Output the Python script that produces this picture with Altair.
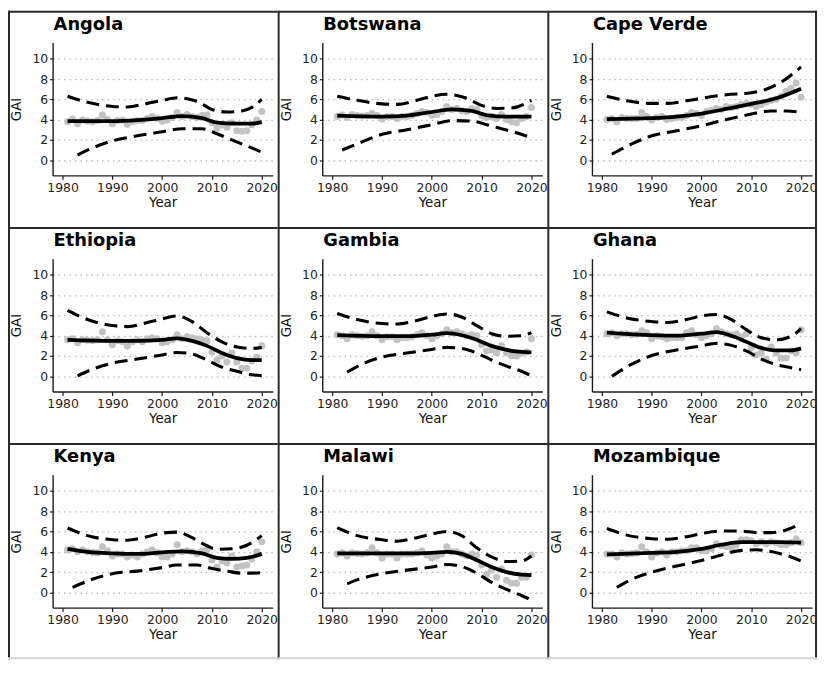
import altair as alt
import pandas as pd

FONT = "DejaVu Sans"
YEARS = list(range(1981, 2021))
COUNTRIES = ["Angola", "Botswana", "Cape Verde", "Ethiopia", "Gambia", "Ghana",
             "Kenya", "Malawi", "Mozambique"]
X_TICKS = [1980, 1990, 2000, 2010, 2020]
Y_TICKS = [0, 2, 4, 6, 8, 10]

# ---- yearly GAI observations (1981-2020) ----
ANGOLA_GAI = [3.8, 4.05, 3.6, 3.95, 3.85, 3.8, 3.9, 4.45, 4.0, 3.6, 3.9, 3.95, 3.55, 3.8, 3.9, 3.9,
              4.1, 4.3, 4.1, 3.85, 3.95, 4.2, 4.7, 4.3, 4.5, 4.3, 4.2, 4.4, 4.45, 3.7, 3.15, 3.5,
              3.25, 3.7, 2.9, 2.85, 2.9, 3.5, 3.95, 4.8]
BOTSWANA_GAI = [4.3, 4.45, 4.2, 4.5, 4.4, 4.35, 4.4, 4.6, 4.4, 4.05, 4.3, 4.3, 4.1, 4.3, 4.3, 4.4,
                4.6, 4.8, 4.7, 4.4, 4.5, 4.8, 5.3, 5.0, 5.1, 4.9, 4.8, 5.1, 5.0, 4.4, 4.2, 4.3,
                4.1, 4.5, 4.0, 3.8, 3.7, 4.1, 4.3, 5.2]
CAPEVERDE_GAI = [4.0, 4.1, 3.8, 4.2, 4.1, 4.1, 4.1, 4.7, 4.3, 3.95, 4.2, 4.3, 4.0, 4.1, 4.2, 4.2,
                 4.4, 4.7, 4.6, 4.4, 4.8, 4.9, 5.1, 5.0, 5.3, 5.2, 5.3, 5.5, 5.6, 5.5, 5.3, 5.5,
                 5.7, 5.9, 6.0, 6.3, 6.8, 7.1, 7.6, 6.2]
ETHIOPIA_GAI = [3.6, 3.7, 3.3, 3.6, 3.55, 3.5, 3.6, 4.4, 3.6, 3.1, 3.5, 3.4, 3.0, 3.4, 3.6, 3.4,
                3.7, 3.8, 3.7, 3.3, 3.4, 3.6, 4.1, 3.7, 3.9, 3.8, 3.7, 3.6, 3.5, 2.4, 1.6, 2.0,
                1.4, 2.3, 1.4, 0.8, 0.8, 1.5, 1.9, 3.0]
GAMBIA_GAI = [4.1, 4.0, 3.7, 4.1, 4.0, 3.95, 4.0, 4.4, 4.0, 3.6, 3.9, 3.9, 3.6, 3.8, 3.8, 3.9,
              4.1, 4.3, 4.0, 3.7, 4.0, 4.2, 4.6, 4.3, 4.4, 4.2, 4.0, 4.1, 4.0, 3.1, 2.5, 2.6,
              2.3, 3.0, 2.3, 2.0, 2.0, 2.3, 2.4, 3.7]
GHANA_GAI = [4.2, 4.3, 4.0, 4.2, 4.2, 4.1, 4.15, 4.5, 4.3, 3.7, 4.0, 3.9, 3.7, 3.8, 3.8, 3.8,
             4.3, 4.5, 4.1, 3.8, 4.0, 4.2, 4.7, 4.4, 4.2, 4.1, 4.2, 3.9, 4.2, 2.8, 2.1, 2.3,
             1.7, 2.9, 2.3, 1.8, 1.8, 2.5, 2.3, 4.6]
KENYA_GAI = [4.2, 4.3, 4.0, 4.2, 4.0, 3.95, 3.9, 4.5, 4.1, 3.6, 3.8, 3.8, 3.5, 3.7, 3.5, 3.8,
             4.0, 4.2, 3.9, 3.5, 3.5, 3.8, 4.7, 4.0, 4.1, 4.0, 3.8, 4.1, 4.2, 3.2, 2.5, 3.1,
             2.9, 3.6, 2.5, 2.6, 2.7, 3.3, 4.0, 5.0]
MALAWI_GAI = [3.8, 3.9, 3.6, 3.9, 3.85, 3.8, 3.9, 4.4, 3.9, 3.4, 3.8, 3.8, 3.4, 3.8, 3.8, 3.8,
              3.9, 4.1, 3.7, 3.4, 3.6, 3.8, 4.5, 4.0, 4.0, 3.8, 3.6, 3.8, 3.7, 2.7, 1.8, 2.2,
              1.5, 2.3, 1.2, 0.9, 0.9, 1.5, 1.5, 3.7]
MOZAMBIQUE_GAI = [3.8, 3.8, 3.5, 3.9, 3.8, 3.85, 3.9, 4.5, 4.0, 3.5, 3.9, 4.0, 3.7, 4.0, 4.0, 4.1,
                  4.1, 4.4, 4.4, 4.1, 4.1, 4.3, 4.8, 4.6, 4.5, 4.4, 4.7, 5.2, 5.2, 5.1, 4.8, 5.0,
                  4.8, 5.0, 4.9, 4.7, 4.7, 4.9, 5.3, 4.9]

# ---- smoothed fit, upper and lower bands: (year, value) ----
ANGOLA_FIT = [(1981, 3.85), (1990, 3.85), (1995, 3.95), (2000, 4.15), (2004, 4.35), (2008, 4.15),
              (2011, 3.7), (2015, 3.6), (2018, 3.6), (2020, 3.75)]
ANGOLA_UP = [(1981, 6.3), (1985, 5.7), (1990, 5.3), (1993, 5.25), (1997, 5.6), (2000, 5.9),
             (2003, 6.15), (2007, 5.8), (2010, 5.0), (2013, 4.75), (2016, 4.85), (2018, 5.2),
             (2020, 6.0)]
ANGOLA_LO = [(1983, 0.5), (1986, 1.2), (1990, 1.9), (1995, 2.4), (2000, 2.8), (2004, 3.1),
             (2008, 3.1), (2011, 2.6), (2014, 2.0), (2017, 1.4), (2020, 0.8)]

BOTSWANA_FIT = [(1981, 4.4), (1990, 4.3), (1995, 4.4), (2000, 4.75), (2004, 5.0), (2008, 4.85),
                (2011, 4.45), (2015, 4.3), (2020, 4.3)]
BOTSWANA_UP = [(1981, 6.3), (1985, 5.9), (1990, 5.55), (1993, 5.5), (1997, 5.9), (2000, 6.3),
               (2003, 6.5), (2007, 6.1), (2010, 5.4), (2013, 5.1), (2016, 5.15), (2020, 5.9)]
BOTSWANA_LO = [(1982, 1.0), (1986, 1.8), (1990, 2.55), (1995, 3.0), (2000, 3.5), (2004, 3.9),
               (2008, 3.85), (2011, 3.5), (2014, 3.1), (2017, 2.7), (2020, 2.2)]

CAPEVERDE_FIT = [(1981, 4.05), (1990, 4.15), (1995, 4.3), (2000, 4.6), (2005, 5.05), (2010, 5.55),
                 (2015, 6.1), (2020, 7.05)]
CAPEVERDE_UP = [(1981, 6.3), (1985, 5.85), (1990, 5.6), (1993, 5.6), (1997, 5.85), (2000, 6.1),
                (2005, 6.45), (2010, 6.65), (2013, 7.0), (2016, 7.7), (2020, 9.2)]
CAPEVERDE_LO = [(1982, 0.6), (1986, 1.6), (1990, 2.4), (1995, 2.9), (2000, 3.4), (2005, 4.0),
                (2010, 4.55), (2014, 4.85), (2017, 4.85), (2020, 4.7)]

ETHIOPIA_FIT = [(1981, 3.6), (1990, 3.5), (1995, 3.5), (2000, 3.6), (2003, 3.75), (2006, 3.5),
                (2009, 3.0), (2012, 2.3), (2015, 1.8), (2018, 1.6), (2020, 1.6)]
ETHIOPIA_UP = [(1981, 6.5), (1985, 5.6), (1990, 5.0), (1993, 4.9), (1997, 5.3), (2000, 5.65),
               (2003, 5.95), (2006, 5.4), (2009, 4.3), (2012, 3.4), (2015, 2.9), (2018, 2.75),
               (2020, 2.85)]
ETHIOPIA_LO = [(1983, 0.05), (1986, 0.7), (1990, 1.3), (1995, 1.7), (2000, 2.1), (2003, 2.35),
               (2006, 2.2), (2009, 1.6), (2012, 0.9), (2015, 0.5), (2018, 0.15), (2020, 0.05)]

GAMBIA_FIT = [(1981, 4.05), (1990, 3.95), (1995, 3.95), (2000, 4.1), (2003, 4.25), (2006, 4.05),
              (2009, 3.6), (2012, 3.0), (2015, 2.6), (2018, 2.4), (2020, 2.35)]
GAMBIA_UP = [(1981, 6.2), (1985, 5.6), (1990, 5.2), (1993, 5.15), (1997, 5.5), (2000, 5.9),
             (2003, 6.15), (2006, 5.85), (2009, 5.0), (2012, 4.2), (2015, 3.95), (2018, 4.0),
             (2020, 4.3)]
GAMBIA_LO = [(1983, 0.4), (1986, 1.2), (1990, 1.9), (1995, 2.3), (2000, 2.65), (2003, 2.85),
             (2006, 2.75), (2009, 2.3), (2012, 1.6), (2015, 1.0), (2018, 0.5), (2020, 0.05)]

GHANA_FIT = [(1981, 4.3), (1990, 4.05), (1995, 4.0), (2000, 4.2), (2003, 4.35), (2006, 4.0),
             (2009, 3.4), (2012, 2.8), (2015, 2.55), (2018, 2.55), (2020, 2.75)]
GHANA_UP = [(1981, 6.35), (1985, 5.75), (1990, 5.4), (1993, 5.3), (1997, 5.6), (2000, 5.95),
            (2003, 6.1), (2006, 5.6), (2009, 4.6), (2012, 3.8), (2015, 3.6), (2018, 3.95),
            (2020, 4.7)]
GHANA_LO = [(1982, 0.0), (1986, 1.2), (1990, 2.05), (1995, 2.6), (2000, 3.0), (2003, 3.25),
            (2006, 3.05), (2009, 2.5), (2012, 1.7), (2015, 1.15), (2018, 0.85), (2020, 0.65)]

KENYA_FIT = [(1981, 4.3), (1985, 4.0), (1990, 3.85), (1995, 3.8), (2000, 3.95), (2004, 4.05),
             (2008, 3.85), (2011, 3.4), (2014, 3.3), (2017, 3.4), (2020, 3.8)]
KENYA_UP = [(1981, 6.35), (1985, 5.6), (1990, 5.2), (1993, 5.15), (1997, 5.5), (2000, 5.85),
            (2003, 5.95), (2006, 5.4), (2009, 4.6), (2011, 4.25), (2014, 4.3), (2017, 4.65),
            (2020, 5.6)]
KENYA_LO = [(1982, 0.5), (1986, 1.3), (1990, 1.85), (1995, 2.1), (2000, 2.45), (2003, 2.7),
            (2007, 2.7), (2010, 2.35), (2013, 2.1), (2016, 1.9), (2018, 1.9), (2020, 1.95)]

MALAWI_FIT = [(1981, 3.85), (1990, 3.85), (1995, 3.85), (2000, 3.9), (2003, 4.0), (2006, 3.8),
              (2009, 3.2), (2012, 2.5), (2015, 2.0), (2018, 1.75), (2020, 1.7)]
MALAWI_UP = [(1981, 6.4), (1985, 5.6), (1990, 5.2), (1993, 5.05), (1997, 5.4), (2000, 5.75),
             (2003, 6.0), (2006, 5.6), (2009, 4.4), (2012, 3.5), (2015, 3.05), (2018, 3.1),
             (2020, 3.6)]
MALAWI_LO = [(1983, 0.85), (1986, 1.4), (1990, 1.85), (1995, 2.2), (2000, 2.5), (2003, 2.75),
             (2006, 2.55), (2009, 1.9), (2012, 1.0), (2015, 0.3), (2018, -0.3), (2020, -0.75)]

MOZAMBIQUE_FIT = [(1981, 3.75), (1990, 3.9), (1995, 4.0), (2000, 4.3), (2004, 4.7), (2008, 4.95),
                  (2012, 4.95), (2016, 4.95), (2020, 4.9)]
MOZAMBIQUE_UP = [(1981, 6.3), (1985, 5.65), (1990, 5.3), (1993, 5.25), (1997, 5.5), (2000, 5.8),
                 (2004, 6.05), (2008, 6.05), (2011, 5.9), (2014, 5.9), (2017, 6.15), (2020, 6.8)]
MOZAMBIQUE_LO = [(1983, 0.5), (1986, 1.3), (1990, 2.0), (1995, 2.6), (2000, 3.15), (2004, 3.7),
                 (2008, 4.15), (2011, 4.2), (2013, 4.1), (2016, 3.8), (2018, 3.5), (2020, 3.1)]

SERIES = {
    "Angola": (ANGOLA_GAI, ANGOLA_FIT, ANGOLA_UP, ANGOLA_LO),
    "Botswana": (BOTSWANA_GAI, BOTSWANA_FIT, BOTSWANA_UP, BOTSWANA_LO),
    "Cape Verde": (CAPEVERDE_GAI, CAPEVERDE_FIT, CAPEVERDE_UP, CAPEVERDE_LO),
    "Ethiopia": (ETHIOPIA_GAI, ETHIOPIA_FIT, ETHIOPIA_UP, ETHIOPIA_LO),
    "Gambia": (GAMBIA_GAI, GAMBIA_FIT, GAMBIA_UP, GAMBIA_LO),
    "Ghana": (GHANA_GAI, GHANA_FIT, GHANA_UP, GHANA_LO),
    "Kenya": (KENYA_GAI, KENYA_FIT, KENYA_UP, KENYA_LO),
    "Malawi": (MALAWI_GAI, MALAWI_FIT, MALAWI_UP, MALAWI_LO),
    "Mozambique": (MOZAMBIQUE_GAI, MOZAMBIQUE_FIT, MOZAMBIQUE_UP, MOZAMBIQUE_LO),
}

# ---- layout (pixels) ----
PW, PH = 222, 134           # plot area
CL, CT = -45, -32           # cell left / top relative to plot origin
CW, CH = 272, 218           # cell size
CR, CB = CL + CW, CT + CH
BORDER = "#2a2a2a"

x_enc = alt.X("Year:Q",
              scale=alt.Scale(domain=[1978, 2022.2], nice=False, zero=False),
              axis=alt.Axis(values=X_TICKS, format="d", title="Year", grid=False,
                            domainColor="#1a1a1a", domainWidth=1.4, tickColor="#1a1a1a",
                            tickSize=4, tickWidth=1.2, labelFontSize=12.5, labelColor="#222222",
                            labelFont=FONT, labelPadding=2, labelFlush=False,
                            titleFont=FONT, titleFontSize=13.5, titleFontWeight="normal",
                            titleColor="#111111", titlePadding=2))
y_enc = alt.Y("GAI:Q",
              scale=alt.Scale(domain=[-1.5, 11.6], nice=False, zero=False),
              axis=alt.Axis(values=Y_TICKS, title="GAI", grid=True, gridColor="#b8b8b8",
                            gridDash=[1.5, 4], gridWidth=1.3,
                            domainColor="#1a1a1a", domainWidth=1.4, tickColor="#1a1a1a",
                            tickSize=3, tickWidth=1.2, labelFontSize=12.5, labelColor="#222222",
                            labelFont=FONT, labelPadding=2,
                            titleFont=FONT, titleFontSize=13.5, titleFontWeight="normal",
                            titleColor="#111111", titlePadding=8))

ONE = alt.Data(values=[{"k": 0}])


def box(x1, x2, y1, y2, color, opacity=1.0):
    return alt.Chart(ONE).mark_rect(color=color, opacity=opacity).encode(
        x=alt.value(x1), x2=alt.value(x2), y=alt.value(y1), y2=alt.value(y2))


def curve(pairs, dashed):
    df = pd.DataFrame(pairs, columns=["Year", "GAI"])
    if dashed:
        m = alt.Chart(df).mark_line(color="black", strokeWidth=3.1, interpolate="monotone",
                                    strokeDash=[13, 7], strokeCap="butt")
    else:
        m = alt.Chart(df).mark_line(color="black", strokeWidth=3.8, interpolate="monotone")
    return m.encode(x=x_enc, y=y_enc)


def panel(i, name):
    col, row = i % 3, i // 3
    gai, fit, up, lo = SERIES[name]
    pts = alt.Chart(pd.DataFrame({"Year": YEARS, "GAI": gai})).mark_circle(
        size=50, color="#c2c2c2", opacity=1).encode(x=x_enc, y=y_enc)
    title = alt.Chart(ONE).mark_text(
        text=name, align="left", baseline="alphabetic", font=FONT, fontSize=18,
        fontWeight="bold", color="black").encode(x=alt.value(1), y=alt.value(-13))
    borders = [
        box(CL, CL + 2, CT, CB, BORDER),
        box(CL, CR, CT, CT + 2, BORDER),
        box(CR - 2, CR, CT, CB, BORDER, 1.0 if col == 2 else 0.0),
        box(CL, CR, CB - 2, CB, "#d4d4d4", 1.0 if row == 2 else 0.0),
    ]
    return alt.layer(*borders, pts, curve(up, True), curve(lo, True), curve(fit, False),
                     title).properties(width=PW, height=PH)


panels = [panel(i, n) for i, n in enumerate(COUNTRIES)]
rows = [alt.hconcat(*panels[r * 3:(r + 1) * 3], spacing=0) for r in range(3)]
chart = alt.vconcat(*rows, spacing=0).properties(padding=0, background="white").configure_view(
    stroke=None)

chart.save("out.html", embed_options={"renderer": "svg", "actions": False})
